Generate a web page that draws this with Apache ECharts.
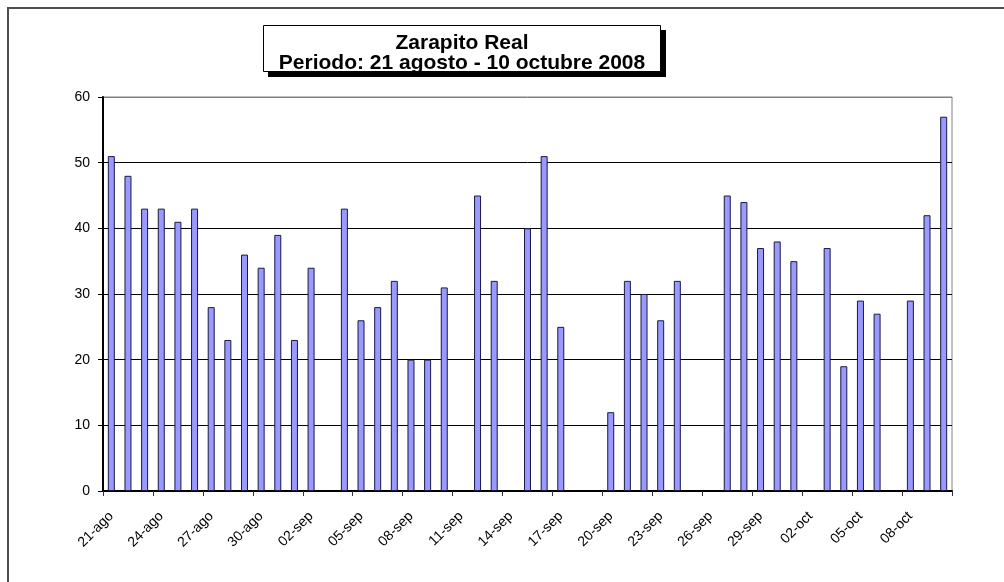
<!DOCTYPE html>
<html>
<head>
<meta charset="utf-8">
<title>Zarapito Real</title>
<script src="https://cdn.jsdelivr.net/npm/echarts@6/dist/echarts.min.js"></script>
<style>
    html, body { margin: 0; padding: 0; background: #fff; }
    #chart { width: 1004px; height: 582px; }
</style>
</head>
<body>
<div id="chart"></div>
<script>
// fechas (21 agosto - 10 octubre 2008)
var dias = [
    '21-ago','22-ago','23-ago','24-ago','25-ago','26-ago','27-ago','28-ago','29-ago','30-ago','31-ago',
    '01-sep','02-sep','03-sep','04-sep','05-sep','06-sep','07-sep','08-sep','09-sep','10-sep',
    '11-sep','12-sep','13-sep','14-sep','15-sep','16-sep','17-sep','18-sep','19-sep','20-sep',
    '21-sep','22-sep','23-sep','24-sep','25-sep','26-sep','27-sep','28-sep','29-sep','30-sep',
    '01-oct','02-oct','03-oct','04-oct','05-oct','06-oct','07-oct','08-oct','09-oct','10-oct'
];

// conteos diarios (null = sin dato)
var conteo = [
    51, 48, 43, 43, 41, 43, 28, 23, 36, 34, 39,
    23, 34, null, 43, 26, 28, 32, 20, 20, 31,
    null, 45, 32, null, 40, 51, 25, null, null, 12,
    32, 30, 26, 32, null, null, 45, 44, 37, 38,
    35, null, 37, 19, 29, 27, null, 29, 42, 57
];

var yTicks = [0, 10, 20, 30, 40, 50, 60];

var fuente = '"Liberation Sans", Arial, sans-serif';

var myChart = echarts.init(document.getElementById('chart'));

var option = {
    animation: false,
    backgroundColor: '#fff',
    textStyle: { fontFamily: fuente },
    title: {
        text: 'Zarapito Real\nPeriodo: 21 agosto - 10 octubre 2008',
        left: 462,
        top: 33,
        textAlign: 'center',
        padding: 0,
        textStyle: {
            fontFamily: fuente,
            fontSize: 21,
            fontWeight: 'bold',
            color: '#000',
            lineHeight: 20
        }
    },
    graphic: [
        // marco exterior
        { type: 'rect', z: -10, shape: { x: 8, y: 8, width: 1100, height: 700 },
          style: { fill: 'none', stroke: '#4d4d4d', lineWidth: 2 } },
        // sombra del cuadro de titulo
        { type: 'rect', z: -5, shape: { x: 268, y: 30, width: 398, height: 47 },
          style: { fill: '#000' } },
        // cuadro de titulo
        { type: 'rect', z: -4, shape: { x: 263.5, y: 25.5, width: 397, height: 46 },
          style: { fill: '#fff', stroke: '#000', lineWidth: 1 } }
    ],
    grid: {
        left: 103,
        right: 52,
        top: 97,
        bottom: 91,
        show: true,
        borderColor: '#808080',
        borderWidth: 1
    },
    xAxis: {
        type: 'category',
        data: dias,
        boundaryGap: true,
        axisLine: { lineStyle: { color: '#000', width: 2 } },
        axisTick: { show: true, interval: 2, length: 5, lineStyle: { color: '#333' } },
        axisLabel: {
            interval: 2,
            rotate: 45,
            margin: 23,
            fontSize: 14,
            fontFamily: fuente,
            color: '#000'
        },
        splitLine: { show: false }
    },
    yAxis: {
        type: 'value',
        min: yTicks[0],
        max: yTicks[yTicks.length - 1],
        interval: 10,
        axisLine: { show: true, lineStyle: { color: '#000', width: 2 } },
        axisTick: { show: true, length: 5, lineStyle: { color: '#000' } },
        axisLabel: { margin: 13, fontSize: 14, fontFamily: fuente, color: '#000' },
        splitLine: {
            show: true,
            lineStyle: { color: ['#000', '#000', '#000', '#000', '#000', '#000', '#808080'], width: 1 }
        }
    },
    series: [
        {
            name: 'Zarapito Real',
            type: 'bar',
            data: conteo,
            barWidth: 7,
            itemStyle: {
                color: '#9999ff',
                borderColor: '#1a1a40',
                borderWidth: 1
            }
        }
    ]
};

myChart.setOption(option);
</script>
</body>
</html>
